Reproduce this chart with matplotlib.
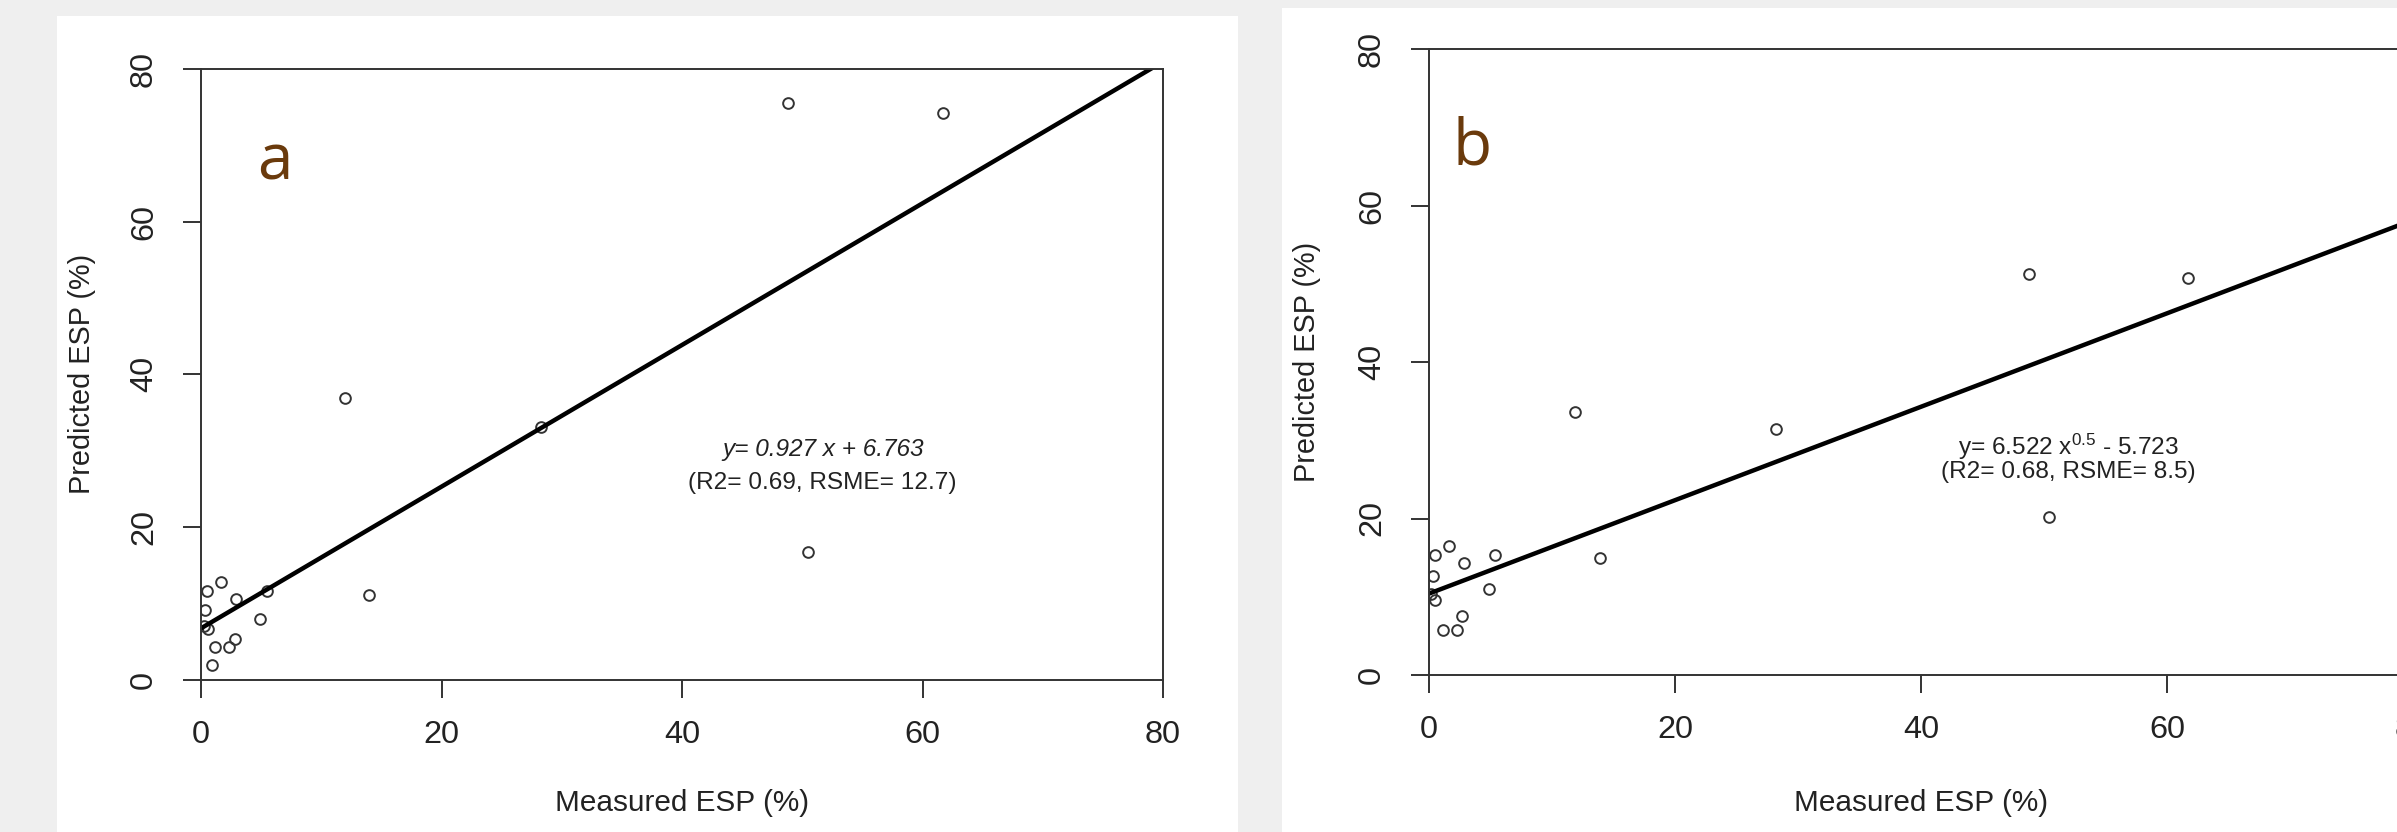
import matplotlib
matplotlib.use("Agg")
import matplotlib.pyplot as plt
from matplotlib.patches import Rectangle

# panel a: linear model
a_measured = [48.8, 61.7, 12.0, 28.3, 50.5, 14.0, 1.7, 0.5, 5.5, 2.9, 0.3, 4.9, 0.25, 0.55, 2.8, 2.3, 1.2, 0.9]
a_predicted = [75.5, 74.2, 36.9, 33.1, 16.7, 11.1, 12.8, 11.6, 11.6, 10.6, 9.2, 8.0, 7.1, 6.7, 5.4, 4.3, 4.3, 2.0]
a_slope, a_intercept = 0.927, 6.763

# panel b: power model
b_measured = [48.8, 61.7, 11.9, 28.2, 50.4, 13.9, 1.6, 0.46, 5.4, 2.85, 0.3, 4.85, 0.2, 0.46, 2.7, 2.3, 1.16]
b_predicted = [51.2, 50.7, 33.6, 31.5, 20.2, 14.9, 16.5, 15.3, 15.3, 14.3, 12.7, 11.0, 10.3, 9.6, 7.5, 5.75, 5.75]
b_slope, b_intercept = 0.597, 10.4

ticks = [0, 20, 40, 60, 80]

plt.rcParams["font.family"] = ["Liberation Sans", "DejaVu Sans"]
plt.rcParams["mathtext.fontset"] = "custom"
plt.rcParams["mathtext.rm"] = "Liberation Sans"
plt.rcParams["mathtext.it"] = "Liberation Sans:italic"

ink = "#222222"
W, H = 2397, 832
fig = plt.figure(figsize=(W / 100, H / 100), dpi=100, facecolor="#efefef")

# white slide panels
fig.patches.append(Rectangle((56.7 / W, 0), (1237.7 - 56.7) / W, (H - 16) / H,
                             transform=fig.transFigure, facecolor="white", edgecolor="none", zorder=-10))
fig.patches.append(Rectangle((1281.7 / W, 0), (W - 1281.7) / W, (H - 8) / H,
                             transform=fig.transFigure, facecolor="white", edgecolor="none", zorder=-10))


def make_axes(left, right, top, bottom):
    return fig.add_axes([left / W, (H - bottom) / H, (right - left) / W, (bottom - top) / H])


def style(ax, x, y, slope, intercept):
    ax.plot(x, y, "o", mfc="none", mec="#333333", ms=7.7, mew=1.4, ls="none")
    ax.axline((0, intercept), slope=slope, color="black", lw=3.2)
    ax.set_xlim(0, 80)
    ax.set_ylim(0, 80)
    ax.set_xticks(ticks)
    ax.set_yticks(ticks)
    ax.set_facecolor("white")
    for s in ax.spines.values():
        s.set_linewidth(1.4)
        s.set_color("#333333")
    ax.tick_params(direction="out", length=12.7, width=1.4, color="#333333",
                   labelsize=23.4, labelcolor=ink)
    ax.tick_params(axis="x", pad=16)
    ax.tick_params(axis="y", pad=17.5, labelrotation=90)
    for lab in ax.get_yticklabels():
        lab.set_va("center")
    ax.set_xlabel("Measured ESP (%)", fontsize=21.4, color=ink)
    ax.set_ylabel("Predicted ESP (%)", fontsize=20.8, color=ink)
    ax.xaxis.label.set_va("center")
    ax.yaxis.label.set_va("center")


ax1 = make_axes(201, 1163, 68.7, 680)
style(ax1, a_measured, a_predicted, a_slope, a_intercept)
ax1.xaxis.set_label_coords(0.5, -(803 - 680) / (680 - 68.7))
ax1.yaxis.set_label_coords(-(201 - 81.7) / (1163 - 201), 0.5)
ax1.text(51.7, 30.2, "y= 0.927 x + 6.763", style="italic", fontsize=17.6,
         ha="center", va="center", color=ink)
ax1.text(51.7, 25.8, "(R2= 0.69, RSME= 12.7)", fontsize=17.6,
         ha="center", va="center", color=ink)

ax2 = make_axes(1429, 2413, 49, 675)
style(ax2, b_measured, b_predicted, b_slope, b_intercept)
ax2.xaxis.set_label_coords(0.5, -(803 - 675) / (675 - 49))
ax2.yaxis.set_label_coords(-(1429 - 1307) / (2413 - 1429), 0.5)
ax2.text(52, 29.1, r"y= 6.522 x$^{0.5}$ - 5.723", fontsize=17.6,
         ha="center", va="center", color=ink)
ax2.text(52, 25.9, "(R2= 0.68, RSME= 8.5)", fontsize=17.6,
         ha="center", va="center", color=ink)

fig.text(257 / W, (H - 180) / H, "a", family="Open Sans", fontsize=46, color="#6a3a0c",
         ha="left", va="baseline")
fig.text(1453 / W, (H - 164.5) / H, "b", family="Open Sans", fontsize=46, color="#6a3a0c",
         ha="left", va="baseline")

fig.savefig("out.png", dpi=100, facecolor=fig.get_facecolor())
